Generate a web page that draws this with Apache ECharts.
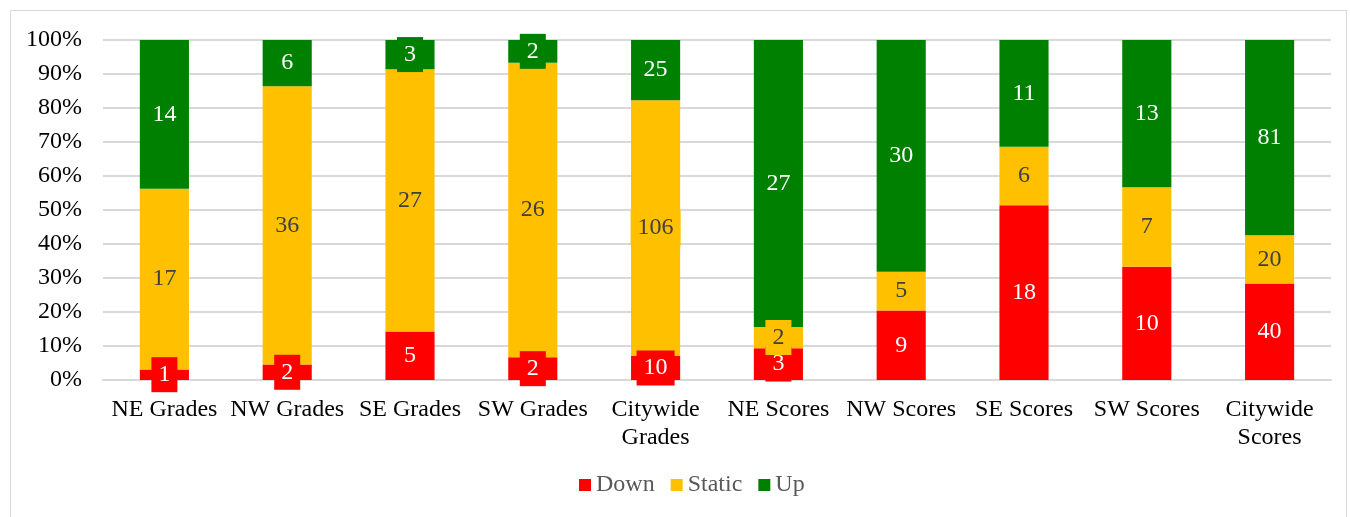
<!DOCTYPE html>
<html>
<head>
<meta charset="utf-8">
<script src="https://cdn.jsdelivr.net/npm/echarts@6/dist/echarts.min.js"></script>
<style>
  html, body { margin: 0; padding: 0; background: #fff; }
  #frame { position: absolute; left: 10px; top: 10px; width: 1337px; height: 520px; border: 1px solid #d9d9d9; box-sizing: border-box; }
  #chart { position: absolute; left: 0; top: 0; width: 1350px; height: 517px; }
</style>
</head>
<body>
<div id="frame"></div>
<div id="chart"></div>
<script>
var categories = ['NE Grades', 'NW Grades', 'SE Grades', 'SW Grades', 'Citywide\nGrades',
                  'NE Scores', 'NW Scores', 'SE Scores', 'SW Scores', 'Citywide\nScores'];
var down   = [1, 2, 5, 2, 10, 3, 9, 18, 10, 40];
var stat   = [17, 36, 27, 26, 106, 2, 5, 6, 7, 20];
var up     = [14, 6, 3, 2, 25, 27, 30, 11, 13, 81];

var totals = categories.map(function (c, i) { return down[i] + stat[i] + up[i]; });
function pct(arr) {
  return arr.map(function (v, i) { return { value: v / totals[i] * 100, count: v }; });
}

var font = '"Liberation Serif", "Times New Roman", serif';
var fs = 24;

function series(name, arr, color, textColor) {
  return {
    name: name,
    type: 'bar',
    stack: 'all',
    barWidth: '40%',
    data: pct(arr),
    itemStyle: { color: color },
    label: {
      show: true,
      position: 'inside',
      formatter: function (p) { return p.data.count; },
      color: textColor,
      fontFamily: font,
      fontSize: fs,
      backgroundColor: color,
      padding: [6, 7, 5, 7]
    }
  };
}

var chart = echarts.init(document.getElementById('chart'));
chart.setOption({
  animation: false,
  textStyle: { fontFamily: font },
  grid: { left: 103, right: 19, top: 40, bottom: 137 },
  legend: {
    bottom: 15,
    left: 574,
    itemWidth: 12,
    itemHeight: 12,
    itemGap: 16,
    icon: 'rect',
    textStyle: { fontFamily: font, fontSize: fs, color: '#595959' },
    data: ['Down', 'Static', 'Up']
  },
  xAxis: {
    type: 'category',
    data: categories,
    axisTick: { show: false },
    axisLine: { lineStyle: { color: '#d9d9d9', width: 2 } },
    axisLabel: { fontFamily: font, fontSize: fs, color: '#000', margin: 16, lineHeight: 28, interval: 0 }
  },
  yAxis: {
    type: 'value',
    min: 0,
    max: 100,
    interval: 10,
    axisLabel: { formatter: '{value}%', fontFamily: font, fontSize: fs, color: '#000', margin: 21 },
    splitLine: { lineStyle: { color: '#d9d9d9', width: 2 } }
  },
  series: [
    series('Down', down, '#ff0000', '#ffffff'),
    series('Static', stat, '#ffc000', '#404040'),
    series('Up', up, '#008000', '#ffffff')
  ]
});
</script>
</body>
</html>
